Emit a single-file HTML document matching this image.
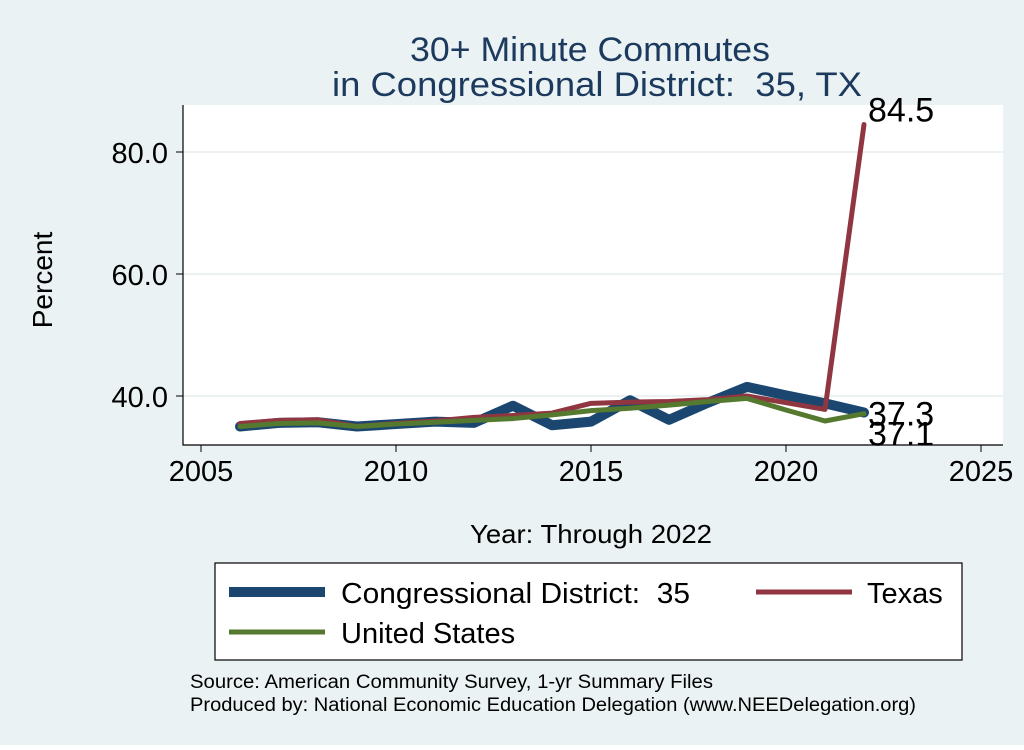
<!DOCTYPE html>
<html><head><meta charset="utf-8"><style>
body{margin:0;background:#fff;font-family:"Liberation Sans",sans-serif}
text{white-space:pre}
</style></head><body>
<svg id="c" width="1024" height="745" xmlns="http://www.w3.org/2000/svg" font-family="Liberation Sans, sans-serif" xml:space="preserve">
<rect x="0" y="0" width="1024" height="745" fill="#eaf2f3"/>
<rect x="183" y="105" width="820" height="340" fill="#fff"/>
<text x="410" y="61" font-size="34" textLength="360" lengthAdjust="spacingAndGlyphs" fill="#1c3a5e">30+ Minute Commutes</text>
<text x="332" y="96" font-size="34" textLength="530" lengthAdjust="spacingAndGlyphs" fill="#1c3a5e">in Congressional District:  35, TX</text>
<g id="grid"></g><g id="axes"></g><g id="series"></g>
<text x="52" y="280" font-size="28" text-anchor="middle" transform="rotate(-90 52 280)">Percent</text>
<text x="470" y="543" font-size="26" textLength="242" lengthAdjust="spacingAndGlyphs">Year: Through 2022</text>
<g>
<rect x="215" y="563" width="747" height="97" fill="#fff" stroke="#000" stroke-width="1.2"/>
<line x1="229" y1="592" x2="325" y2="592" stroke="#1a4670" stroke-width="10"/>
<text x="341" y="603" font-size="29" textLength="349" lengthAdjust="spacingAndGlyphs">Congressional District:  35</text>
<line x1="756" y1="592" x2="852" y2="592" stroke="#903640" stroke-width="5"/>
<text x="867" y="603" font-size="29">Texas</text>
<line x1="229" y1="632" x2="325" y2="632" stroke="#55792f" stroke-width="5"/>
<text x="341" y="643" font-size="29">United States</text>
</g>
<text x="190" y="688" font-size="19" textLength="523" lengthAdjust="spacingAndGlyphs">Source: American Community Survey, 1-yr Summary Files</text>
<text x="190" y="711" font-size="19" textLength="726" lengthAdjust="spacingAndGlyphs">Produced by: National Economic Education Delegation (www.NEEDelegation.org)</text>
</svg>
<script>
const years=[2006,2007,2008,2009,2010,2011,2012,2013,2014,2015,2016,2017,2018,2019,2020,2021,2022];
const district=[35.0,35.6,35.7,35.0,35.4,35.8,35.6,38.4,35.2,35.8,39.3,36.1,38.9,41.5,40.1,38.8,37.3];
const texas=[35.5,36.0,36.1,35.0,35.5,35.9,36.5,36.8,37.2,38.8,39.0,39.1,39.4,40.0,38.9,37.8,84.5];
const us=[35.0,35.5,35.6,35.0,35.4,35.7,36.0,36.3,36.9,37.6,38.0,38.5,39.1,39.6,37.7,35.9,37.1];
const xTicks=[2005,2010,2015,2020,2025];
const yTicks=[40,60,80];
const yTickLabels=["40.0","60.0","80.0"];
const X=v=>201+(v-2005)*39, Y=v=>396-(v-40)*6.1;
const NS="http://www.w3.org/2000/svg";
function mk(p,t,a){const e=document.createElementNS(NS,t);for(const k in a)e.setAttribute(k,a[k]);document.getElementById(p).appendChild(e);return e;}
yTicks.forEach((v,i)=>{
 const g=mk('grid','line',{x1:183,x2:1003,y1:Y(v),y2:Y(v),stroke:'#e6eeee','stroke-width':1.5});
 
 
 const t=mk('axes','line',{x1:176,x2:183,y1:Y(v),y2:Y(v),stroke:'#000'});
 
 
 const l=mk('axes','text',{x:168,y:Y(v)+11,'font-size':29,'text-anchor':'end'});l.textContent=yTickLabels[i];
 
 
});
xTicks.forEach(v=>{
 const t=mk('axes','line',{x1:X(v),x2:X(v),y1:445,y2:452,stroke:'#000'});
 
 
 const l=mk('axes','text',{x:X(v),y:481,'font-size':29,'text-anchor':'middle'});l.textContent=v;
 
 
});
const ax=mk('axes','path',{d:'M183 105V445H1003',fill:'none',stroke:'#000','stroke-width':1.2});


function line(arr,col,w,name){
 const d=arr.map((v,i)=>(i?'L':'M')+X(years[i])+' '+Y(v)).join('');
 const p=mk('series','path',{d:d,fill:'none',stroke:col,'stroke-width':w,'stroke-linejoin':'round','stroke-linecap':'round'});
 
 
}
line(district,'#1a4670',10,'line-district');
line(texas,'#903640',5,'line-texas');
line(us,'#55792f',5,'line-us');
function lab(arr,dy,name){
 const n=arr.length-1;
 const t=mk('series','text',{x:X(years[n])+4,y:Y(arr[n])+dy,'font-size':34});t.textContent=arr[n].toFixed(1);
 
 
}
lab(texas,-3,'label-texas-end');
lab(district,13,'label-district-end');
lab(us,32,'label-us-end');
</script>
</body></html>
